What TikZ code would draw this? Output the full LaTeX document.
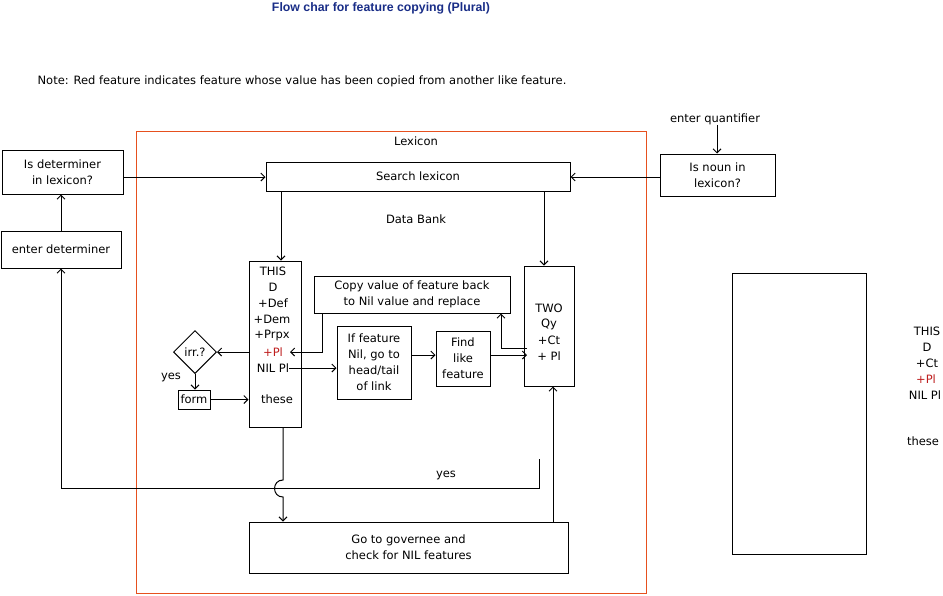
\documentclass[tikz,border=0pt]{standalone}
\usepackage{fontspec}
\setmainfont{DejaVu Sans}
\newfontfamily\titlefont{Liberation Sans}
\usetikzlibrary{arrows.meta,shapes.geometric}
\definecolor{lexred}{RGB}{230,80,30}
\definecolor{featred}{RGB}{190,30,30}
\definecolor{titleblue}{RGB}{25,45,135}
\tikzset{
  box/.style={draw, line width=1pt, inner sep=0pt, align=center},
  txt/.style={inner sep=0pt, align=center},
  arr/.style={line width=1pt, -{Straight Barb[length=4pt,width=8pt]}},
}
\begin{document}
\begin{tikzpicture}[x=1pt,y=-1pt,font=\fontsize{11.5}{16}\selectfont]
\useasboundingbox (0,0) rectangle (943,595);
% title and note
\node[txt,text=titleblue,font=\titlefont\bfseries\fontsize{12.3}{14}\selectfont] (title) at (381,8) {Flow char for feature copying (Plural)};
\node[txt] (note) at (302,81) {Note: Red feature indicates feature whose value has been copied from another like feature.};
% lexicon frame
\node[draw=lexred, line width=0.9pt, minimum width=510pt, minimum height=462pt, inner sep=0pt] (lex) at (391,362) {};
\node[txt] (lexlabel) at (416,141) {Lexicon};
\node[txt] (databank) at (416,219) {Data Bank};
% boxes
\node[box, minimum width=121pt, minimum height=44pt] (isdet) at (62.5,172) {Is determiner\\in lexicon?};
\node[box, minimum width=120pt, minimum height=37pt] (enterdet) at (61,249.5) {enter determiner};
\node[box, minimum width=304pt, minimum height=29pt] (search) at (418,176.5) {Search lexicon};
\node[box, minimum width=115pt, minimum height=42pt] (isnoun) at (717.5,175) {Is noun in\\lexicon?};
\node[txt] (enterq) at (715,119) {enter quantifier};
\node[box, minimum width=52pt, minimum height=166pt] (thisbox) at (275,344) {};
\node[box, minimum width=50pt, minimum height=120pt] (twobox) at (549,326) {};
\node[box, minimum width=196pt, minimum height=37pt] (copy) at (412,294.5) {Copy value of feature back\\to Nil value and replace};
\node[box, minimum width=74pt, minimum height=73pt] (iff) at (374,362.5) {If feature\\Nil, go to\\head/tail\\of link};
\node[box, minimum width=54pt, minimum height=55pt] (find) at (463,358.5) {Find\\like\\feature};
\node[box, diamond, minimum width=43pt, minimum height=43pt] (irr) at (195,352) {irr.?};
\node[box, minimum width=32pt, minimum height=19pt] (form) at (194,399.5) {form};
\node[box, minimum width=319pt, minimum height=51pt] (gov) at (408.5,547.5) {Go to governee and\\check for NIL features};
\node[box, minimum width=134pt, minimum height=281pt] (rightbox) at (799,413.5) {};
% THIS box contents
\node[txt] (this1) at (273,271) {THIS};
\node[txt] (this2) at (273,287) {D};
\node[txt] (this3) at (273,303) {+Def};
\node[txt] (this4) at (272,319) {+Dem};
\node[txt] (this5) at (272,335) {+Prpx};
\node[txt,text=featred] (plpl) at (273,352) {+Pl};
\node[txt] (nilpl) at (273,368) {NIL Pl};
\node[txt] (these) at (277,399) {these};
% TWO box contents
\node[txt] (two1) at (549,308) {TWO};
\node[txt] (two2) at (549,324) {Qy};
\node[txt] (two3) at (549,340) {+Ct};
\node[txt] (two4) at (549,356) {+ Pl};
% labels
\node[txt] (yes1) at (171,377) {yes};
\node[txt] (yes2) at (446,475) {yes};
% right column texts
\node[txt] (r1) at (927,331) {THIS};
\node[txt] (r2) at (927,347) {D};
\node[txt] (r3) at (927,363) {+Ct};
\node[txt,text=featred] (r4) at (926,379) {+Pl};
\node[txt] (r5) at (925,395) {NIL Pl};
\node[txt] (r6) at (923,441) {these};
% helper coordinates
\coordinate (ylex) at (0,177);
\coordinate (xa) at (281,0);
\coordinate (xb) at (544,0);
\coordinate (xc) at (322,0);
\coordinate (yfind) at (0,355);
\coordinate (ytwo) at (0,348);
\coordinate (xd) at (501,0);
\coordinate (xe) at (283,0);
\coordinate (xf) at (553,0);
\coordinate (xq) at (717,0);
\coordinate (hopa) at (283,480);
\coordinate (hopb) at (283,497);
\coordinate (yline) at (0,488);
\coordinate (yestop) at (539,459);
\coordinate (pltip) at (290,352);
\coordinate (twotip) at (527,355);
\coordinate (twostart) at (527,348);
% connectors
\draw[arr] (enterdet.north) -- (isdet.south -| enterdet.north);
\draw[arr] (isdet.east |- ylex) -- (search.west |- ylex);
\draw[arr] (isnoun.west |- ylex) -- (search.east |- ylex);
\draw[arr] (enterq.south -| xq) -- (isnoun.north -| xq);
\draw[arr] (search.south -| xa) -- (thisbox.north -| xa);
\draw[arr] (search.south -| xb) -- (twobox.north -| xb);
\draw[arr] (copy.south -| xc) |- (pltip);
\draw[arr] (thisbox.west |- irr.east) -- (irr.east);
\draw[arr] (irr.south) -- (form.north -| irr.south);
\draw[arr] (form.east) -- (thisbox.west |- form.east);
\draw[arr] (nilpl.east) -- (iff.west |- nilpl.east);
\draw[arr] (iff.east |- yfind) -- (find.west |- yfind);
\draw[arr] (find.east |- yfind) -- (twotip);
\draw[arr] (twostart) -| (copy.south -| xd);
\draw[arr] (thisbox.south -| xe) -- (hopa) to[out=180,in=180,looseness=1.7] (hopb) -- (gov.north -| xe);
\draw[arr] (yestop) |- (enterdet.south |- yline) -- (enterdet.south);
\draw[arr] (gov.north -| xf) -- (twobox.south -| xf);
\end{tikzpicture}
\end{document}
